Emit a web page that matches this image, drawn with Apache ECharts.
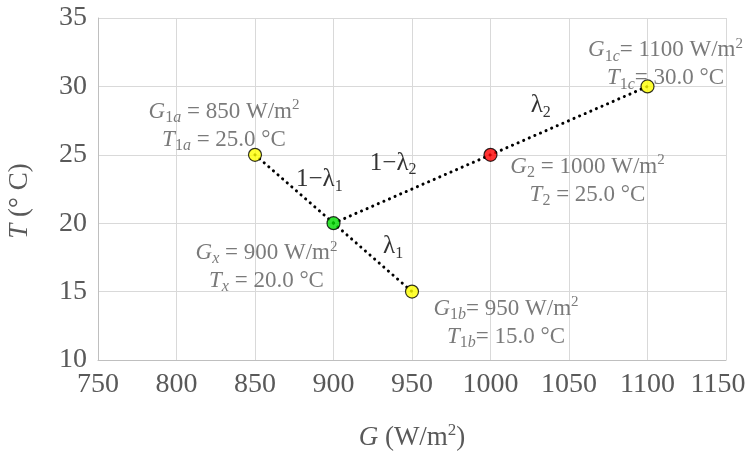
<!DOCTYPE html>
<html>
<head>
<meta charset="utf-8">
<script src="https://cdn.jsdelivr.net/npm/echarts@6/dist/echarts.min.js"></script>
<style>
html,body{margin:0;padding:0;background:#fff;}
#chart{width:749px;height:452px;}
</style>
</head>
<body>
<div id="chart"></div>
<script>
// ---- data ----
var pointNames = ['1a', 'x', '1b', '2', '1c'];
var pointG = [850, 900, 950, 1000, 1100];
var pointT = [25, 20, 15, 25, 30];
var pointColors = ['#ffff00', '#00dd00', '#ffff00', '#ff0000', '#ffff00'];
var path1 = [[850, 25], [900, 20], [950, 15]];
var path2 = [[900, 20], [1000, 25], [1100, 30]];
var annoMain = ['1\u2212\u03bb', '1\u2212\u03bb', '\u03bb', '\u03bb'];
var annoSub = ['1', '2', '2', '1'];
var annoG = [891, 938, 1032, 938];
var annoT = [23.2, 24.4, 28.6, 18.3];
var xTicks = [750, 800, 850, 900, 950, 1000, 1050, 1100, 1150];
var yTicks = [10, 15, 20, 25, 30, 35];

// ---- chart ----
var FONT = 'Liberation Serif';
var GREY = '#595959';
var labelOffsets = [[-31, -29], [-67, 44], [94, 31], [97, 26], [18, -22]];
var gap = {'1a': ' = ', 'x': ' = ', '1b': '= ', '2': ' = ', '1c': '= '};

var labelRich = {
  n: {fontFamily: FONT, fontSize: 23, color: GREY, lineHeight: 28},
  i: {fontFamily: FONT, fontSize: 23, color: GREY, lineHeight: 28, fontStyle: 'italic'},
  s: {fontFamily: FONT, fontSize: 16, color: GREY, lineHeight: 16, verticalAlign: 'bottom'},
  si: {fontFamily: FONT, fontSize: 16, color: GREY, lineHeight: 16, verticalAlign: 'bottom', fontStyle: 'italic'},
  p: {fontFamily: FONT, fontSize: 15, color: GREY, lineHeight: 20, verticalAlign: 'top'}
};

function subText(name) {
  var out = '';
  for (var k = 0; k < name.length; k++) {
    var c = name[k];
    out += /[0-9]/.test(c) ? '{s|' + c + '}' : '{si|' + c + '}';
  }
  return out;
}

var pointData = pointG.map(function (g, i) {
  var nm = pointNames[i];
  var txt = '{i|G}' + subText(nm) + '{n|' + gap[nm] + g + ' W/m}{p|2}\n' +
            '{i|T}' + subText(nm) + '{n|' + gap[nm] + pointT[i].toFixed(1) + ' \u00b0C}';
  return {
    value: [g, pointT[i]],
    itemStyle: {color: pointColors[i], borderColor: '#000', borderWidth: 1.2},
    label: {show: true, position: 'inside', offset: labelOffsets[i], formatter: txt, rich: labelRich, align: 'center'}
  };
});

var annoRich = {
  m: {fontFamily: FONT, fontSize: 25, color: '#000', lineHeight: 30},
  s: {fontFamily: FONT, fontSize: 16, color: '#000', lineHeight: 16, verticalAlign: 'bottom'}
};
var annoData = annoG.map(function (g, i) {
  return {
    value: [g, annoT[i]],
    label: {formatter: '{m|' + annoMain[i] + '}{s|' + annoSub[i] + '}'}
  };
});

var dotted = {color: '#000', width: 3, type: [0.1, 6], cap: 'round'};
var xMax = xTicks[xTicks.length - 1];

var chart = echarts.init(document.getElementById('chart'), null, {renderer: 'canvas'});
chart.setOption({
  animation: false,
  backgroundColor: '#fff',
  grid: {left: 98, right: 23, top: 18, bottom: 92, containLabel: false, outerBoundsMode: 'none'},
  xAxis: {
    type: 'value', min: xTicks[0], max: xMax, interval: 50,
    name: '{i|G}{n| (W/m}{p|2}{n|)}',
    nameLocation: 'middle', nameGap: 62,
    nameTextStyle: {
      rich: {
        n: {fontFamily: FONT, fontSize: 27, color: GREY, lineHeight: 32},
        i: {fontFamily: FONT, fontSize: 27, color: GREY, lineHeight: 32, fontStyle: 'italic'},
        p: {fontFamily: FONT, fontSize: 17, color: GREY, lineHeight: 22, verticalAlign: 'top'}
      }
    },
    axisLine: {show: true, lineStyle: {color: '#bfbfbf', width: 1}},
    axisTick: {show: false},
    splitLine: {show: true, lineStyle: {color: '#d9d9d9', width: 1}},
    axisLabel: {fontFamily: FONT, fontSize: 28, color: GREY, margin: 11,
      formatter: function (v) { return v === xMax ? '{r|' + v + '}' : String(v); },
      rich: {r: {fontFamily: FONT, fontSize: 28, color: GREY, padding: [0, 16, 0, 0]}}}
  },
  yAxis: {
    type: 'value', min: yTicks[0], max: yTicks[yTicks.length - 1], interval: 5,
    name: '{i|T}{n| (\u00b0 C)}',
    nameLocation: 'middle', nameGap: 62, nameRotate: 90,
    nameTextStyle: {
      padding: [0, 24, 0, 0],
      rich: {
        n: {fontFamily: FONT, fontSize: 27, color: GREY, lineHeight: 32},
        i: {fontFamily: FONT, fontSize: 27, color: GREY, lineHeight: 32, fontStyle: 'italic'}
      }
    },
    axisLine: {show: true, lineStyle: {color: '#bfbfbf', width: 1}},
    axisTick: {show: false},
    splitLine: {show: true, lineStyle: {color: '#d9d9d9', width: 1}},
    axisLabel: {fontFamily: FONT, fontSize: 28, color: GREY, margin: 11,
      formatter: function (v) { return String(v); }}
  },
  series: [
    {type: 'line', data: path1, symbol: 'none', lineStyle: dotted, z: 2},
    {type: 'line', data: path2, symbol: 'none', lineStyle: dotted, z: 2},
    {type: 'scatter', data: pointData, symbolSize: 13, z: 5},
    {type: 'scatter', data: annoData, symbolSize: 0, z: 6,
      label: {show: true, position: 'inside', rich: annoRich}}
  ]
});
</script>
</body>
</html>
